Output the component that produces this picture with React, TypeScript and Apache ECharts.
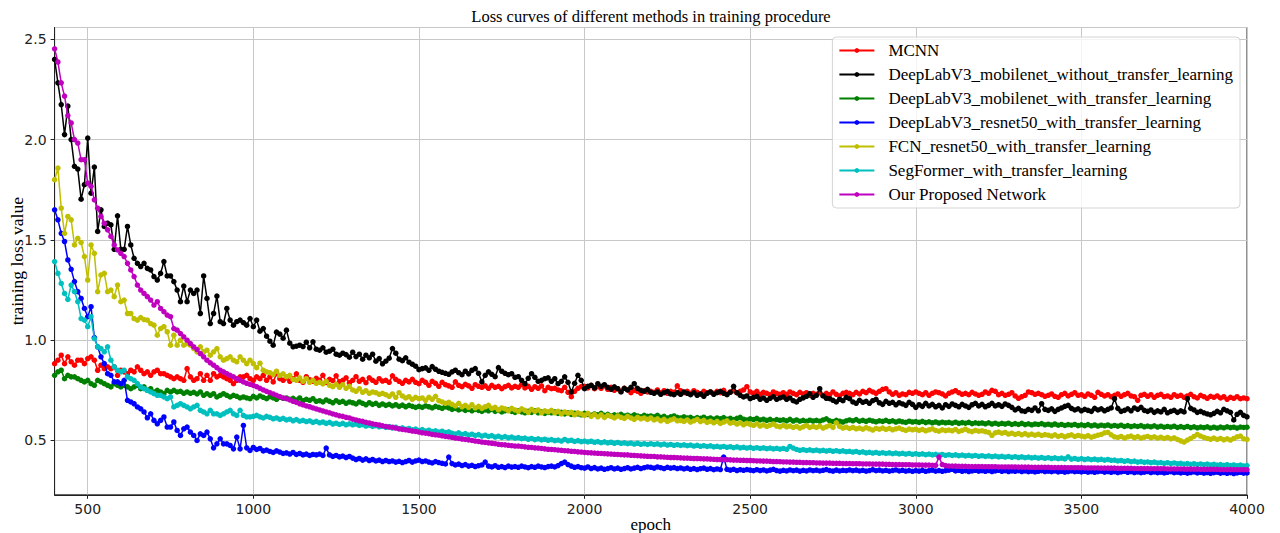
import React, { useEffect, useRef } from "react";
import * as echarts from "echarts";

// epochs: first point at 400, one point every 10 epochs up to 4000
const EPOCH_START = 400;
const EPOCH_STEP = 10;

const TITLE = "Loss curves of different methods in training procedure";
const X_NAME = "epoch";
const Y_NAME = "training loss value";

const NAMES = [
  "MCNN",
  "DeepLabV3_mobilenet_without_transfer_learning",
  "DeepLabV3_mobilenet_with_transfer_learning",
  "DeepLabV3_resnet50_with_transfer_learning",
  "FCN_resnet50_with_transfer_learning",
  "SegFormer_with_transfer_learning",
  "Our Proposed Network",
];
const COLORS = ["#ff0000", "#000000", "#008000", "#0000ff", "#bfbf00", "#00bfbf", "#bf00bf"];

const MCNN = [
  0.883, 0.900, 0.925, 0.883, 0.917, 0.892, 0.875, 0.900, 0.900, 0.883,
  0.908, 0.917, 0.900, 0.850, 0.875, 0.858, 0.867, 0.858, 0.867, 0.825,
  0.850, 0.842, 0.833, 0.850, 0.842, 0.867, 0.850, 0.833, 0.842, 0.825,
  0.842, 0.850, 0.833, 0.833, 0.825, 0.817, 0.808, 0.817, 0.808, 0.800,
  0.858, 0.817, 0.800, 0.808, 0.833, 0.800, 0.825, 0.800, 0.833, 0.817,
  0.825, 0.817, 0.808, 0.800, 0.783, 0.800, 0.817, 0.817, 0.825, 0.808,
  0.800, 0.817, 0.808, 0.825, 0.800, 0.817, 0.792, 0.833, 0.808, 0.800,
  0.812, 0.795, 0.808, 0.832, 0.800, 0.790, 0.818, 0.803, 0.795, 0.810,
  0.800, 0.825, 0.790, 0.805, 0.798, 0.822, 0.792, 0.800, 0.812, 0.787,
  0.800, 0.818, 0.795, 0.805, 0.788, 0.812, 0.800, 0.790, 0.808, 0.796,
  0.800, 0.790, 0.822, 0.805, 0.795, 0.785, 0.800, 0.792, 0.805, 0.790,
  0.783, 0.800, 0.790, 0.775, 0.795, 0.785, 0.770, 0.790, 0.778, 0.772,
  0.765, 0.792, 0.775, 0.768, 0.780, 0.772, 0.760, 0.778, 0.770, 0.765,
  0.772, 0.760, 0.775, 0.765, 0.770, 0.758, 0.768, 0.775, 0.762, 0.770,
  0.765, 0.778, 0.762, 0.770, 0.755, 0.768, 0.760, 0.772, 0.748, 0.765,
  0.758, 0.760, 0.752, 0.748, 0.765, 0.740, 0.718, 0.745, 0.760, 0.768,
  0.770, 0.762, 0.775, 0.758, 0.768, 0.760, 0.772, 0.755, 0.765, 0.750,
  0.758, 0.745, 0.760, 0.752, 0.738, 0.750, 0.745, 0.735, 0.748, 0.742,
  0.745, 0.740, 0.752, 0.738, 0.748, 0.735, 0.745, 0.740, 0.772, 0.748,
  0.738, 0.745, 0.735, 0.748, 0.740, 0.732, 0.745, 0.738, 0.742, 0.735,
  0.745, 0.738, 0.750, 0.732, 0.742, 0.748, 0.738, 0.745, 0.752, 0.768,
  0.742, 0.735, 0.745, 0.730, 0.740, 0.735, 0.728, 0.742, 0.735, 0.730,
  0.738, 0.730, 0.742, 0.735, 0.728, 0.740, 0.732, 0.738, 0.725, 0.735,
  0.730, 0.738, 0.725, 0.735, 0.728, 0.742, 0.730, 0.722, 0.735, 0.740,
  0.735, 0.728, 0.740, 0.732, 0.745, 0.738, 0.750, 0.742, 0.735, 0.745,
  0.755, 0.758, 0.742, 0.730, 0.738, 0.725, 0.732, 0.728, 0.740, 0.735,
  0.742, 0.735, 0.728, 0.738, 0.725, 0.735, 0.742, 0.738, 0.732, 0.722,
  0.735, 0.742, 0.748, 0.738, 0.730, 0.735, 0.728, 0.740, 0.732, 0.725,
  0.730, 0.742, 0.735, 0.750, 0.745, 0.728, 0.735, 0.725, 0.730, 0.738,
  0.722, 0.710, 0.718, 0.725, 0.742, 0.738, 0.730, 0.735, 0.728, 0.720,
  0.725, 0.732, 0.720, 0.715, 0.728, 0.735, 0.722, 0.730, 0.738, 0.725,
  0.728, 0.720, 0.732, 0.725, 0.715, 0.740, 0.730, 0.722, 0.728, 0.718,
  0.725, 0.732, 0.720, 0.728, 0.735, 0.722, 0.718, 0.700, 0.725, 0.730,
  0.720, 0.728, 0.715, 0.725, 0.730, 0.718, 0.722, 0.715, 0.728, 0.720,
  0.725, 0.715, 0.722, 0.730, 0.718, 0.712, 0.725, 0.718, 0.710, 0.720,
  0.715, 0.722, 0.712, 0.718, 0.705, 0.715, 0.710, 0.718, 0.708, 0.712,
  0.708,
];

const MOBILENET_NO_TL = [
  2.400, 2.283, 2.175, 2.025, 2.167, 2.000, 1.867, 1.853, 1.703, 1.775,
  2.008, 1.733, 1.863, 1.542, 1.650, 1.567, 1.583, 1.575, 1.453, 1.620,
  1.453, 1.453, 1.567, 1.475, 1.408, 1.383, 1.367, 1.383, 1.358, 1.350,
  1.317, 1.300, 1.333, 1.392, 1.320, 1.320, 1.292, 1.250, 1.192, 1.270,
  1.192, 1.250, 1.233, 1.250, 1.133, 1.320, 1.208, 1.083, 1.133, 1.220,
  1.092, 1.083, 1.158, 1.100, 1.075, 1.092, 1.100, 1.087, 1.075, 1.108,
  1.067, 1.100, 1.045, 1.058, 1.020, 0.995, 0.975, 1.040, 1.030, 1.010,
  1.050, 0.985, 0.967, 0.970, 0.975, 0.968, 0.990, 0.962, 0.992, 0.955,
  0.950, 0.962, 0.940, 0.945, 0.955, 0.930, 0.925, 0.935, 0.928, 0.915,
  0.940, 0.918, 0.930, 0.905, 0.925, 0.912, 0.930, 0.895, 0.908, 0.882,
  0.895, 0.910, 0.958, 0.935, 0.905, 0.898, 0.912, 0.890, 0.880, 0.870,
  0.853, 0.858, 0.862, 0.850, 0.868, 0.855, 0.845, 0.840, 0.835, 0.830,
  0.842, 0.850, 0.838, 0.828, 0.845, 0.832, 0.850, 0.858, 0.835, 0.792,
  0.825, 0.842, 0.830, 0.818, 0.863, 0.845, 0.835, 0.828, 0.833, 0.815,
  0.818, 0.800, 0.783, 0.810, 0.833, 0.815, 0.795, 0.800, 0.808, 0.812,
  0.795, 0.808, 0.783, 0.795, 0.817, 0.790, 0.742, 0.785, 0.825, 0.800,
  0.758, 0.770, 0.775, 0.762, 0.783, 0.770, 0.778, 0.765, 0.755, 0.767,
  0.758, 0.742, 0.760, 0.752, 0.765, 0.783, 0.760, 0.750, 0.745, 0.755,
  0.740, 0.735, 0.742, 0.730, 0.738, 0.745, 0.732, 0.728, 0.738, 0.730,
  0.742, 0.735, 0.728, 0.738, 0.725, 0.732, 0.720, 0.735, 0.742, 0.730,
  0.738, 0.745, 0.735, 0.728, 0.740, 0.770, 0.738, 0.725, 0.717, 0.722,
  0.708, 0.715, 0.720, 0.705, 0.712, 0.700, 0.710, 0.718, 0.705, 0.712,
  0.717, 0.705, 0.712, 0.698, 0.692, 0.705, 0.712, 0.720, 0.733, 0.715,
  0.725, 0.758, 0.722, 0.710, 0.708, 0.700, 0.692, 0.705, 0.698, 0.715,
  0.708, 0.692, 0.685, 0.700, 0.690, 0.695, 0.685, 0.698, 0.705, 0.688,
  0.680, 0.695, 0.685, 0.690, 0.678, 0.688, 0.682, 0.675, 0.690, 0.680,
  0.665, 0.678, 0.670, 0.685, 0.672, 0.680, 0.668, 0.675, 0.662, 0.678,
  0.670, 0.682, 0.675, 0.668, 0.680, 0.672, 0.665, 0.678, 0.685, 0.672,
  0.680, 0.668, 0.675, 0.685, 0.672, 0.678, 0.670, 0.682, 0.675, 0.665,
  0.652, 0.660, 0.648, 0.645, 0.655, 0.650, 0.662, 0.648, 0.683, 0.655,
  0.650, 0.658, 0.645, 0.655, 0.662, 0.670, 0.675, 0.660, 0.652, 0.658,
  0.648, 0.655, 0.650, 0.645, 0.660, 0.652, 0.658, 0.648, 0.655, 0.662,
  0.708, 0.660, 0.645, 0.650, 0.658, 0.648, 0.662, 0.655, 0.665, 0.650,
  0.645, 0.652, 0.640, 0.648, 0.642, 0.655, 0.638, 0.645, 0.650, 0.640,
  0.648, 0.642, 0.708, 0.660, 0.652, 0.640, 0.645, 0.638, 0.632, 0.628,
  0.635, 0.645, 0.638, 0.655, 0.648, 0.640, 0.602, 0.630, 0.640, 0.625,
  0.618,
];

const MOBILENET_TL = [
  0.825, 0.842, 0.850, 0.808, 0.825, 0.817, 0.817, 0.808, 0.800, 0.792,
  0.800, 0.783, 0.775, 0.800, 0.792, 0.783, 0.775, 0.767, 0.783, 0.775,
  0.767, 0.775, 0.767, 0.758, 0.767, 0.775, 0.758, 0.767, 0.750, 0.758,
  0.742, 0.750, 0.742, 0.733, 0.750, 0.742, 0.750, 0.742, 0.745, 0.735,
  0.742, 0.735, 0.740, 0.732, 0.742, 0.725, 0.733, 0.725, 0.733, 0.717,
  0.725, 0.733, 0.725, 0.717, 0.725, 0.720, 0.712, 0.717, 0.712, 0.708,
  0.720, 0.712, 0.722, 0.715, 0.708, 0.718, 0.712, 0.705, 0.715, 0.710,
  0.712, 0.705, 0.710, 0.702, 0.712, 0.698, 0.705, 0.700, 0.708, 0.695,
  0.698, 0.692, 0.702, 0.695, 0.688, 0.698, 0.690, 0.695, 0.685, 0.692,
  0.688, 0.682, 0.692, 0.685, 0.678, 0.688, 0.680, 0.685, 0.675, 0.682,
  0.675, 0.680, 0.672, 0.678, 0.670, 0.676, 0.668, 0.675, 0.670, 0.665,
  0.670, 0.665, 0.672, 0.668, 0.662, 0.670, 0.665, 0.660, 0.668, 0.662,
  0.655, 0.660, 0.652, 0.658, 0.650, 0.655, 0.648, 0.655, 0.650, 0.645,
  0.652, 0.648, 0.655, 0.645, 0.650, 0.642, 0.648, 0.652, 0.645, 0.640,
  0.648, 0.642, 0.638, 0.645, 0.640, 0.648, 0.638, 0.642, 0.635, 0.640,
  0.638, 0.642, 0.635, 0.640, 0.632, 0.638, 0.630, 0.636, 0.632, 0.628,
  0.635, 0.630, 0.626, 0.632, 0.628, 0.635, 0.625, 0.630, 0.622, 0.628,
  0.625, 0.630, 0.622, 0.626, 0.620, 0.628, 0.622, 0.618, 0.625, 0.620,
  0.622, 0.618, 0.625, 0.615, 0.620, 0.612, 0.618, 0.622, 0.615, 0.612,
  0.618, 0.612, 0.615, 0.608, 0.614, 0.610, 0.616, 0.608, 0.612, 0.606,
  0.612, 0.608, 0.614, 0.606, 0.610, 0.604, 0.610, 0.615, 0.606, 0.602,
  0.608, 0.604, 0.610, 0.602, 0.606, 0.600, 0.605, 0.598, 0.604, 0.600,
  0.603, 0.598, 0.605, 0.597, 0.602, 0.596, 0.600, 0.595, 0.601, 0.597,
  0.600, 0.596, 0.602, 0.608, 0.598, 0.594, 0.600, 0.596, 0.592, 0.598,
  0.602, 0.598, 0.604, 0.596, 0.600, 0.595, 0.601, 0.597, 0.593, 0.598,
  0.595, 0.600, 0.594, 0.598, 0.592, 0.597, 0.593, 0.590, 0.596, 0.592,
  0.594, 0.590, 0.595, 0.589, 0.593, 0.588, 0.592, 0.587, 0.591, 0.588,
  0.590, 0.586, 0.591, 0.585, 0.589, 0.586, 0.590, 0.584, 0.588, 0.585,
  0.587, 0.583, 0.588, 0.582, 0.586, 0.581, 0.585, 0.582, 0.586, 0.580,
  0.584, 0.580, 0.585, 0.579, 0.583, 0.578, 0.582, 0.580, 0.584, 0.578,
  0.581, 0.577, 0.582, 0.576, 0.580, 0.575, 0.579, 0.576, 0.580, 0.574,
  0.578, 0.574, 0.579, 0.573, 0.577, 0.572, 0.576, 0.573, 0.577, 0.571,
  0.575, 0.571, 0.576, 0.570, 0.574, 0.569, 0.573, 0.570, 0.574, 0.568,
  0.572, 0.568, 0.573, 0.567, 0.571, 0.566, 0.570, 0.567, 0.571, 0.565,
  0.569, 0.565, 0.570, 0.564, 0.568, 0.563, 0.567, 0.564, 0.568, 0.562,
  0.566, 0.562, 0.567, 0.563, 0.568, 0.564, 0.566, 0.562, 0.567, 0.565,
  0.566,
];

const RESNET50_TL = [
  1.650, 1.600, 1.533, 1.492, 1.400, 1.353, 1.292, 1.242, 1.208, 1.158,
  1.117, 1.167, 1.013, 0.967, 0.917, 0.883, 0.833, 0.825, 0.792, 0.792,
  0.783, 0.800, 0.700, 0.692, 0.683, 0.667, 0.658, 0.642, 0.613, 0.633,
  0.600, 0.583, 0.600, 0.617, 0.567, 0.567, 0.592, 0.550, 0.525, 0.558,
  0.567, 0.542, 0.525, 0.500, 0.533, 0.525, 0.542, 0.508, 0.463, 0.483,
  0.508, 0.483, 0.483, 0.475, 0.458, 0.517, 0.458, 0.575, 0.463, 0.450,
  0.465, 0.455, 0.460, 0.448, 0.452, 0.445, 0.440, 0.448, 0.442, 0.435,
  0.438, 0.432, 0.440, 0.430, 0.435, 0.428, 0.432, 0.425, 0.430, 0.428,
  0.432, 0.425, 0.462, 0.428, 0.420, 0.425, 0.418, 0.422, 0.415, 0.420,
  0.412, 0.405, 0.410, 0.402, 0.408, 0.400, 0.405, 0.398, 0.402, 0.395,
  0.400, 0.395, 0.398, 0.392, 0.396, 0.390, 0.395, 0.400, 0.392, 0.398,
  0.402, 0.395, 0.398, 0.392, 0.388, 0.395, 0.390, 0.386, 0.383, 0.417,
  0.385, 0.378, 0.382, 0.375, 0.380, 0.372, 0.376, 0.370, 0.374, 0.378,
  0.392, 0.372, 0.368, 0.374, 0.366, 0.370, 0.365, 0.372, 0.367, 0.370,
  0.366, 0.372, 0.368, 0.364, 0.370, 0.366, 0.372, 0.368, 0.365, 0.370,
  0.372, 0.368, 0.375, 0.385, 0.392, 0.380, 0.372, 0.366, 0.370, 0.364,
  0.362, 0.368, 0.360, 0.365, 0.358, 0.362, 0.356, 0.360, 0.364, 0.358,
  0.362, 0.356, 0.360, 0.364, 0.358, 0.362, 0.366, 0.360, 0.364, 0.368,
  0.366, 0.362, 0.368, 0.364, 0.360, 0.366, 0.362, 0.365, 0.360, 0.363,
  0.358, 0.362, 0.356, 0.360, 0.355, 0.359, 0.362, 0.356, 0.360, 0.354,
  0.358, 0.355, 0.417, 0.356, 0.352, 0.356, 0.350, 0.354, 0.351, 0.355,
  0.352, 0.349, 0.354, 0.350, 0.353, 0.348, 0.352, 0.356, 0.350, 0.347,
  0.351, 0.348, 0.353, 0.349, 0.352, 0.347, 0.351, 0.348, 0.353, 0.349,
  0.352, 0.348, 0.351, 0.355, 0.350, 0.347, 0.352, 0.348, 0.351, 0.349,
  0.353, 0.349, 0.352, 0.348, 0.351, 0.347, 0.350, 0.354, 0.349, 0.352,
  0.348, 0.351, 0.347, 0.350, 0.353, 0.348, 0.351, 0.347, 0.350, 0.346,
  0.350, 0.347, 0.351, 0.346, 0.349, 0.352, 0.347, 0.350, 0.346, 0.349,
  0.352, 0.356, 0.348, 0.351, 0.346, 0.349, 0.345, 0.348, 0.351, 0.347,
  0.349, 0.346, 0.350, 0.345, 0.348, 0.351, 0.346, 0.349, 0.345, 0.348,
  0.346, 0.349, 0.345, 0.348, 0.344, 0.347, 0.343, 0.346, 0.349, 0.345,
  0.347, 0.344, 0.348, 0.343, 0.346, 0.342, 0.345, 0.348, 0.344, 0.346,
  0.343, 0.346, 0.342, 0.345, 0.341, 0.344, 0.347, 0.342, 0.345, 0.341,
  0.344, 0.340, 0.343, 0.346, 0.341, 0.344, 0.340, 0.343, 0.339, 0.342,
  0.345, 0.340, 0.343, 0.339, 0.342, 0.338, 0.341, 0.344, 0.339, 0.342,
  0.338, 0.341, 0.337, 0.340, 0.343, 0.338, 0.341, 0.337, 0.340, 0.336,
  0.339, 0.342, 0.337, 0.340, 0.336, 0.339, 0.335, 0.338, 0.341, 0.337,
  0.338,
];

const FCN_TL = [
  1.800, 1.858, 1.658, 1.533, 1.617, 1.600, 1.475, 1.508, 1.487, 1.417,
  1.300, 1.475, 1.433, 1.242, 1.325, 1.333, 1.242, 1.250, 1.217, 1.275,
  1.192, 1.200, 1.133, 1.133, 1.108, 1.100, 1.113, 1.103, 1.100, 1.083,
  1.075, 1.025, 1.058, 1.067, 1.042, 0.975, 1.025, 0.975, 1.000, 0.975,
  0.983, 0.975, 0.958, 0.942, 0.967, 0.942, 0.950, 0.925, 0.942, 0.958,
  0.917, 0.900, 0.908, 0.917, 0.900, 0.892, 0.917, 0.900, 0.883, 0.900,
  0.883, 0.863, 0.885, 0.850, 0.842, 0.838, 0.830, 0.845, 0.825, 0.832,
  0.818, 0.825, 0.805, 0.800, 0.812, 0.795, 0.808, 0.790, 0.800, 0.785,
  0.790, 0.782, 0.795, 0.775, 0.768, 0.780, 0.765, 0.778, 0.760, 0.770,
  0.752, 0.745, 0.758, 0.740, 0.748, 0.735, 0.742, 0.738, 0.730, 0.735,
  0.728, 0.720, 0.732, 0.715, 0.738, 0.722, 0.712, 0.718, 0.705, 0.715,
  0.708, 0.712, 0.700, 0.715, 0.705, 0.720, 0.698, 0.692, 0.685, 0.690,
  0.680, 0.672, 0.685, 0.668, 0.675, 0.665, 0.678, 0.662, 0.670, 0.660,
  0.668, 0.675, 0.660, 0.665, 0.652, 0.662, 0.658, 0.648, 0.660, 0.652,
  0.645, 0.658, 0.650, 0.640, 0.655, 0.645, 0.652, 0.638, 0.648, 0.642,
  0.650, 0.638, 0.645, 0.632, 0.642, 0.635, 0.640, 0.628, 0.638, 0.632,
  0.625, 0.635, 0.620, 0.630, 0.618, 0.628, 0.615, 0.625, 0.620, 0.612,
  0.622, 0.615, 0.610, 0.620, 0.612, 0.605, 0.615, 0.608, 0.612, 0.605,
  0.612, 0.602, 0.608, 0.598, 0.605, 0.595, 0.602, 0.608, 0.598, 0.600,
  0.595, 0.602, 0.592, 0.598, 0.605, 0.594, 0.600, 0.590, 0.596, 0.588,
  0.595, 0.585, 0.592, 0.598, 0.586, 0.590, 0.582, 0.588, 0.578, 0.585,
  0.580, 0.575, 0.583, 0.572, 0.578, 0.570, 0.576, 0.582, 0.572, 0.568,
  0.575, 0.568, 0.572, 0.565, 0.570, 0.562, 0.568, 0.575, 0.565, 0.570,
  0.565, 0.572, 0.562, 0.568, 0.575, 0.565, 0.588, 0.570, 0.562, 0.566,
  0.560, 0.565, 0.558, 0.562, 0.556, 0.564, 0.558, 0.552, 0.560, 0.556,
  0.562, 0.555, 0.560, 0.553, 0.558, 0.562, 0.555, 0.550, 0.557, 0.553,
  0.556, 0.550, 0.555, 0.548, 0.553, 0.558, 0.550, 0.546, 0.553, 0.549,
  0.552, 0.548, 0.555, 0.545, 0.550, 0.556, 0.548, 0.544, 0.550, 0.546,
  0.548, 0.544, 0.540, 0.525, 0.538, 0.542, 0.536, 0.540, 0.532, 0.536,
  0.530, 0.535, 0.528, 0.534, 0.527, 0.532, 0.526, 0.531, 0.525, 0.529,
  0.526, 0.522, 0.528, 0.520, 0.525, 0.518, 0.524, 0.528, 0.520, 0.525,
  0.522, 0.518, 0.524, 0.516, 0.521, 0.526, 0.530, 0.538, 0.540, 0.528,
  0.518, 0.515, 0.520, 0.512, 0.518, 0.522, 0.514, 0.519, 0.512, 0.516,
  0.520, 0.514, 0.518, 0.511, 0.516, 0.510, 0.515, 0.508, 0.513, 0.505,
  0.498, 0.492, 0.502, 0.510, 0.520, 0.530, 0.522, 0.515, 0.510, 0.506,
  0.512, 0.505, 0.510, 0.503, 0.508, 0.502, 0.510, 0.518, 0.522, 0.508,
  0.505,
];

const SEGFORMER_TL = [
  1.392, 1.333, 1.283, 1.233, 1.203, 1.275, 1.242, 1.192, 1.108, 1.100,
  1.067, 1.117, 1.008, 0.967, 0.958, 0.942, 0.967, 0.900, 0.867, 0.850,
  0.842, 0.850, 0.817, 0.808, 0.800, 0.783, 0.767, 0.758, 0.750, 0.742,
  0.733, 0.725, 0.725, 0.717, 0.708, 0.717, 0.667, 0.675, 0.683, 0.675,
  0.667, 0.658, 0.667, 0.675, 0.650, 0.642, 0.633, 0.650, 0.633, 0.633,
  0.625, 0.633, 0.642, 0.650, 0.633, 0.625, 0.650, 0.625, 0.617, 0.617,
  0.620, 0.625, 0.618, 0.612, 0.620, 0.615, 0.608, 0.612, 0.605, 0.610,
  0.602, 0.606, 0.598, 0.604, 0.596, 0.600, 0.594, 0.598, 0.590, 0.595,
  0.588, 0.592, 0.585, 0.590, 0.582, 0.586, 0.580, 0.585, 0.578, 0.583,
  0.578, 0.582, 0.575, 0.579, 0.572, 0.576, 0.570, 0.574, 0.568, 0.572,
  0.565, 0.569, 0.562, 0.566, 0.559, 0.563, 0.556, 0.560, 0.553, 0.557,
  0.550, 0.554, 0.547, 0.551, 0.545, 0.548, 0.542, 0.546, 0.540, 0.543,
  0.536, 0.532, 0.538, 0.530, 0.534, 0.527, 0.531, 0.525, 0.529, 0.522,
  0.526, 0.520, 0.524, 0.517, 0.521, 0.515, 0.519, 0.513, 0.517, 0.511,
  0.514, 0.509, 0.512, 0.506, 0.510, 0.504, 0.508, 0.503, 0.506, 0.501,
  0.504, 0.499, 0.502, 0.497, 0.505, 0.498, 0.501, 0.495, 0.499, 0.494,
  0.497, 0.493, 0.496, 0.491, 0.494, 0.489, 0.493, 0.488, 0.491, 0.486,
  0.490, 0.485, 0.488, 0.484, 0.487, 0.482, 0.486, 0.481, 0.484, 0.480,
  0.484, 0.480, 0.483, 0.478, 0.482, 0.477, 0.480, 0.476, 0.479, 0.475,
  0.478, 0.474, 0.477, 0.472, 0.476, 0.471, 0.474, 0.470, 0.473, 0.468,
  0.471, 0.467, 0.470, 0.466, 0.469, 0.464, 0.468, 0.463, 0.466, 0.462,
  0.465, 0.461, 0.464, 0.460, 0.463, 0.459, 0.462, 0.458, 0.461, 0.457,
  0.460, 0.456, 0.470, 0.462, 0.455, 0.451, 0.454, 0.450, 0.453, 0.449,
  0.452, 0.448, 0.451, 0.447, 0.450, 0.446, 0.449, 0.445, 0.448, 0.444,
  0.446, 0.442, 0.445, 0.440, 0.443, 0.438, 0.441, 0.437, 0.440, 0.436,
  0.439, 0.435, 0.438, 0.434, 0.437, 0.433, 0.436, 0.432, 0.435, 0.431,
  0.434, 0.430, 0.433, 0.429, 0.432, 0.428, 0.431, 0.427, 0.430, 0.426,
  0.429, 0.425, 0.428, 0.424, 0.427, 0.423, 0.426, 0.422, 0.425, 0.421,
  0.424, 0.420, 0.423, 0.419, 0.422, 0.418, 0.421, 0.417, 0.420, 0.416,
  0.419, 0.415, 0.418, 0.414, 0.417, 0.413, 0.416, 0.412, 0.415, 0.411,
  0.414, 0.410, 0.413, 0.409, 0.412, 0.408, 0.418, 0.407, 0.410, 0.406,
  0.409, 0.405, 0.408, 0.404, 0.407, 0.403, 0.406, 0.402, 0.405, 0.401,
  0.402, 0.398, 0.400, 0.396, 0.399, 0.394, 0.397, 0.392, 0.395, 0.391,
  0.393, 0.389, 0.392, 0.388, 0.390, 0.386, 0.389, 0.385, 0.388, 0.384,
  0.386, 0.382, 0.385, 0.381, 0.384, 0.380, 0.383, 0.379, 0.382, 0.378,
  0.381, 0.377, 0.380, 0.376, 0.379, 0.375, 0.378, 0.374, 0.377, 0.373,
  0.375,
];

const PROPOSED = [
  2.453, 2.387, 2.283, 2.217, 2.120, 2.083, 2.000, 1.983, 1.900, 1.900,
  1.783, 1.767, 1.700, 1.658, 1.617, 1.583, 1.550, 1.517, 1.475, 1.450,
  1.433, 1.417, 1.383, 1.350, 1.317, 1.275, 1.250, 1.233, 1.217, 1.200,
  1.175, 1.192, 1.158, 1.142, 1.125, 1.117, 1.058, 1.050, 1.033, 1.017,
  1.000, 0.983, 0.967, 0.953, 0.933, 0.917, 0.900, 0.887, 0.875, 0.863,
  0.850, 0.842, 0.833, 0.825, 0.817, 0.808, 0.800, 0.792, 0.785, 0.780,
  0.775, 0.768, 0.760, 0.752, 0.745, 0.738, 0.732, 0.725, 0.718, 0.712,
  0.708, 0.702, 0.695, 0.690, 0.683, 0.678, 0.672, 0.668, 0.662, 0.657,
  0.652, 0.647, 0.642, 0.638, 0.632, 0.628, 0.623, 0.620, 0.615, 0.612,
  0.606, 0.602, 0.598, 0.595, 0.590, 0.587, 0.583, 0.580, 0.577, 0.573,
  0.570, 0.567, 0.566, 0.562, 0.558, 0.555, 0.553, 0.550, 0.547, 0.545,
  0.542, 0.538, 0.536, 0.534, 0.530, 0.528, 0.526, 0.523, 0.520, 0.518,
  0.515, 0.512, 0.510, 0.507, 0.505, 0.503, 0.500, 0.497, 0.495, 0.492,
  0.490, 0.488, 0.486, 0.484, 0.481, 0.479, 0.478, 0.476, 0.474, 0.472,
  0.472, 0.470, 0.468, 0.466, 0.465, 0.463, 0.462, 0.460, 0.458, 0.456,
  0.455, 0.454, 0.452, 0.451, 0.449, 0.448, 0.446, 0.445, 0.443, 0.442,
  0.440, 0.439, 0.438, 0.437, 0.436, 0.435, 0.434, 0.433, 0.432, 0.431,
  0.430, 0.429, 0.428, 0.428, 0.426, 0.425, 0.424, 0.423, 0.422, 0.421,
  0.420, 0.420, 0.418, 0.418, 0.417, 0.416, 0.415, 0.415, 0.414, 0.413,
  0.412, 0.412, 0.411, 0.410, 0.410, 0.409, 0.408, 0.408, 0.407, 0.406,
  0.405, 0.405, 0.404, 0.404, 0.403, 0.402, 0.402, 0.401, 0.401, 0.400,
  0.400, 0.399, 0.398, 0.398, 0.397, 0.397, 0.396, 0.395, 0.395, 0.394,
  0.393, 0.393, 0.392, 0.392, 0.391, 0.391, 0.390, 0.390, 0.389, 0.389,
  0.388, 0.388, 0.387, 0.387, 0.387, 0.386, 0.386, 0.386, 0.385, 0.385,
  0.385, 0.384, 0.384, 0.384, 0.383, 0.383, 0.383, 0.382, 0.382, 0.382,
  0.382, 0.381, 0.381, 0.380, 0.380, 0.380, 0.379, 0.379, 0.379, 0.378,
  0.378, 0.378, 0.377, 0.377, 0.377, 0.376, 0.376, 0.417, 0.380, 0.375,
  0.372, 0.372, 0.372, 0.371, 0.371, 0.371, 0.370, 0.370, 0.370, 0.370,
  0.370, 0.369, 0.369, 0.369, 0.369, 0.368, 0.368, 0.368, 0.368, 0.368,
  0.368, 0.367, 0.367, 0.367, 0.367, 0.366, 0.366, 0.366, 0.366, 0.366,
  0.366, 0.365, 0.365, 0.365, 0.365, 0.365, 0.364, 0.364, 0.364, 0.364,
  0.364, 0.363, 0.363, 0.363, 0.363, 0.363, 0.362, 0.362, 0.362, 0.362,
  0.362, 0.361, 0.361, 0.361, 0.361, 0.361, 0.360, 0.360, 0.360, 0.360,
  0.360, 0.359, 0.359, 0.359, 0.359, 0.359, 0.358, 0.358, 0.358, 0.358,
  0.358, 0.357, 0.357, 0.357, 0.357, 0.357, 0.356, 0.356, 0.356, 0.356,
  0.356, 0.356, 0.355, 0.355, 0.355, 0.355, 0.355, 0.354, 0.354, 0.354,
  0.354,
];

const SERIES_VALUES = [MCNN, MOBILENET_NO_TL, MOBILENET_TL, RESNET50_TL, FCN_TL, SEGFORMER_TL, PROPOSED];

const X_MIN = 400;
const X_MAX = 4000;
const Y_MIN = 0.229;
const Y_MAX = 2.559;

const SERIF = "'Liberation Serif', 'Times New Roman', serif";
const SANS = "'DejaVu Sans', sans-serif";

export default function App() {
  const ref = useRef<HTMLDivElement>(null);

  useEffect(() => {
    if (!ref.current) return;
    const chart = echarts.init(ref.current, undefined, { renderer: "svg" });

    const series = NAMES.map((name, k) => ({
      name,
      type: "line",
      data: SERIES_VALUES[k].map((v, i) => [EPOCH_START + i * EPOCH_STEP, v]),
      symbol: "circle",
      symbolSize: 5.5,
      showSymbol: true,
      lineStyle: { color: COLORS[k], width: 1.5 },
      itemStyle: { color: COLORS[k] },
      emphasis: { disabled: true },
      silent: true,
      z: 2 + k * 0.01,
    }));

    chart.setOption({
      animation: false,
      backgroundColor: "#ffffff",
      title: {
        text: TITLE,
        left: 651,
        top: 8,
        padding: 0,
        textAlign: "center",
        textStyle: { fontFamily: SERIF, fontSize: 16.5, fontWeight: "normal", color: "#000" },
      },
      grid: {
        left: 54.6,
        right: 33,
        top: 27.5,
        bottom: 38.2,
        show: true,
        borderColor: "#222",
        borderWidth: 1,
        backgroundColor: "transparent",
        containLabel: false,
        outerBoundsMode: "none",
      },
      legend: {
        data: NAMES,
        orient: "vertical",
        right: 40,
        top: 37,
        itemWidth: 35,
        itemHeight: 6,
        itemGap: 7,
        padding: [5, 7, 5, 6],
        backgroundColor: "rgba(255,255,255,0.8)",
        borderColor: "#d4d4d4",
        borderWidth: 1,
        borderRadius: 4,
        selectedMode: false,
        z: 10,
        textStyle: { fontFamily: SERIF, fontSize: 17, color: "#000", lineHeight: 15, padding: [0, 0, 0, 9] },
      },
      xAxis: {
        type: "value",
        min: X_MIN,
        max: X_MAX,
        splitNumber: 7,
        name: X_NAME,
        nameLocation: "middle",
        nameGap: 21,
        nameMoveOverlap: false,
        nameTextStyle: { fontFamily: SERIF, fontSize: 17, color: "#000" },
        axisLine: { show: true, lineStyle: { color: "#222", width: 1 } },
        axisTick: { show: true, length: 4, lineStyle: { color: "#222" } },
        axisLabel: {
          showMinLabel: false,
          showMaxLabel: true,
          margin: 7,
          fontFamily: SANS,
          fontSize: 14,
          color: "#222",
          formatter: (v: number) => String(v),
        },
        splitLine: { show: true, lineStyle: { color: "#c8c8c8", width: 1 } },
      },
      yAxis: {
        type: "value",
        min: Y_MIN,
        max: Y_MAX,
        splitNumber: 5,
        name: Y_NAME,
        nameLocation: "middle",
        nameGap: 29,
        nameMoveOverlap: false,
        nameTextStyle: { fontFamily: SERIF, fontSize: 17.5, color: "#000" },
        axisLine: { show: true, lineStyle: { color: "#222", width: 1 } },
        axisTick: { show: true, length: 4, lineStyle: { color: "#222" } },
        axisLabel: {
          showMinLabel: false,
          showMaxLabel: false,
          margin: 8,
          fontFamily: SANS,
          fontSize: 14,
          color: "#222",
          formatter: (v: number) => v.toFixed(1),
        },
        splitLine: { show: true, lineStyle: { color: "#c8c8c8", width: 1 } },
      },
      series,
    });

    return () => chart.dispose();
  }, []);

  return <div ref={ref} style={{ position: "absolute", left: 0, top: 0, width: 1280, height: 533 }} />;
}
